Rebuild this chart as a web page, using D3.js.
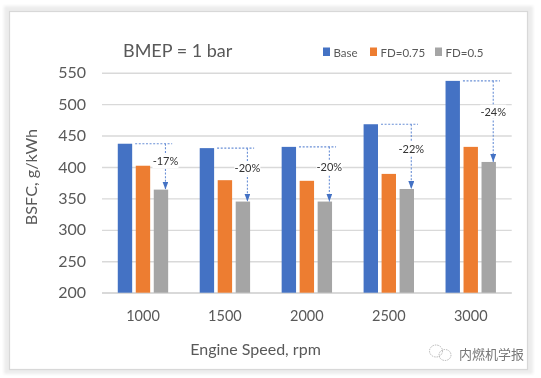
<!DOCTYPE html>
<html lang="en">
  <head>
    <meta charset="UTF-8" />
    <title>BSFC vs Engine Speed</title>
    <script src="https://cdn.jsdelivr.net/npm/d3@7"></script>
    <style>
      html, body { margin: 0; padding: 0; background: #fff; }
      svg { display: block; font-family: Lato, "Open Sans", sans-serif; filter: blur(0.35px); }
    </style>
  </head>
  <body>
    <div id="wrapper"></div>
    <script>
      const speeds = ['1000', '1500', '2000', '2500', '3000']
      const seriesNames = ['Base', 'FD=0.75', 'FD=0.5']
      const base = [437, 430, 432, 468, 537]
      const fd075 = [402, 379, 378, 389, 432]
      const fd05 = [364, 345, 345, 365, 408]
      const changes = ['-17%', '-20%', '-20%', '-22%', '-24%']
      const yTicks = [200, 250, 300, 350, 400, 450, 500, 550]
      const colors = ['#4472c4', '#ed7d31', '#a5a5a5']

      const width = 541
      const height = 378
      const margin = { top: 72.7, left: 102, right: 29.3, bottom: 85.3 }
      const boundedWidth = width - margin.left - margin.right
      const boundedHeight = height - margin.top - margin.bottom
      const values = [base, fd075, fd05]

      const $svg = d3.select('#wrapper').append('svg')
        .attr('width', width)
        .attr('height', height)

      // soft outer shadow and thin picture border
      const defs = $svg.append('defs')
      defs.append('filter').attr('id', 'soft')
        .append('feGaussianBlur').attr('stdDeviation', 1.5)
      $svg.append('rect')
        .attr('x', 4).attr('y', 6).attr('width', 529).attr('height', 368)
        .attr('fill', '#ececec').attr('filter', 'url(#soft)')
      $svg.append('rect')
        .attr('x', 9.5).attr('y', 11.5).attr('width', 518).attr('height', 358)
        .attr('fill', '#fff').attr('stroke', '#d8d8d8').attr('stroke-width', 1.2)

      const g = $svg.append('g')
        .attr('transform', `translate(${margin.left},${margin.top})`)

      const xScale = d3.scaleBand()
        .domain(speeds)
        .range([0, boundedWidth])
        .paddingInner(0.385)
        .paddingOuter(0.1925)
      const seriesScale = d3.scaleBand()
        .domain(seriesNames)
        .range([0, xScale.bandwidth()])
        .paddingInner(0.2)
      const yScale = d3.scaleLinear()
        .domain([200, 550])
        .range([boundedHeight, 0])

      // gridlines and y labels
      const yAxis = g.append('g')
        .call(d3.axisLeft(yScale).tickValues(yTicks).tickSize(-boundedWidth).tickPadding(16))
      yAxis.select('.domain').remove()
      yAxis.selectAll('.tick line').attr('stroke', '#d9d9d9').attr('stroke-width', 1.4)
      yAxis.selectAll('.tick text')
        .attr('fill', '#595959').style('font-size', '16px').style('font-family', 'Lato')

      const xAxis = g.append('g')
        .attr('transform', `translate(0,${boundedHeight})`)
        .call(d3.axisBottom(xScale).tickSize(0).tickPadding(18))
      xAxis.select('.domain').attr('stroke', '#d9d9d9').attr('stroke-width', 1.4)
        .attr('d', `M0,0H${boundedWidth}`)
      xAxis.selectAll('.tick text')
        .attr('fill', '#595959').style('font-size', '14.5px').style('font-family', 'Lato')

      // bars
      seriesNames.forEach((name, s) => {
        g.append('g').selectAll('rect')
          .data(speeds)
          .join('rect')
          .attr('x', d => xScale(d) + seriesScale(name))
          .attr('width', seriesScale.bandwidth())
          .attr('y', (d, i) => yScale(values[s][i]))
          .attr('height', (d, i) => boundedHeight - yScale(values[s][i]))
          .attr('fill', colors[s])
      })

      // reduction annotations: dashed level off the Base bar, dashed arrow down to FD=0.5
      defs.append('marker')
        .attr('id', 'arrow')
        .attr('viewBox', '0 0 8 6')
        .attr('refX', 8).attr('refY', 3)
        .attr('markerWidth', 8).attr('markerHeight', 6)
        .attr('markerUnits', 'userSpaceOnUse')
        .attr('orient', 'auto')
        .append('path').attr('d', 'M0,0L8,3L0,6Z').attr('fill', '#4472c4')

      const arrowX = d => xScale(d) + seriesScale('FD=0.5') + seriesScale.bandwidth() / 2 + 4.5
      const note = g.append('g')
      note.selectAll('line.level')
        .data(speeds)
        .join('line')
        .attr('class', 'level')
        .attr('x1', d => xScale(d) + seriesScale.bandwidth() + 3)
        .attr('x2', d => xScale(d) + seriesScale.bandwidth() + 40)
        .attr('y1', (d, i) => yScale(base[i]))
        .attr('y2', (d, i) => yScale(base[i]))
        .attr('stroke', '#6a90d6').attr('stroke-width', 1.1).attr('stroke-dasharray', '2 1.6')
      note.selectAll('line.drop')
        .data(speeds)
        .join('line')
        .attr('class', 'drop')
        .attr('x1', arrowX)
        .attr('x2', arrowX)
        .attr('y1', (d, i) => yScale(base[i]))
        .attr('y2', (d, i) => yScale(fd05[i]))
        .attr('stroke', '#6a90d6').attr('stroke-width', 1.1).attr('stroke-dasharray', '2 1.6')
        .attr('marker-end', 'url(#arrow)')

      const labelY = i => yScale(base[i]) + (yScale(fd05[i]) - yScale(base[i])) * 0.38
      note.selectAll('rect.bg')
        .data(speeds)
        .join('rect')
        .attr('class', 'bg')
        .attr('x', d => arrowX(d) - 13)
        .attr('y', (d, i) => labelY(i) - 7)
        .attr('width', 26).attr('height', 14)
        .attr('fill', '#fff')
      note.selectAll('text')
        .data(speeds)
        .join('text')
        .attr('x', arrowX)
        .attr('y', (d, i) => labelY(i))
        .attr('dy', '0.35em')
        .attr('text-anchor', 'middle')
        .attr('fill', '#333')
        .style('font-size', '11px')
        .text((d, i) => changes[i])

      // title and axis titles
      $svg.append('text')
        .attr('x', 123).attr('y', 57)
        .attr('fill', '#595959').style('font-size', '18px')
        .text('BMEP = 1 bar')
      $svg.append('text')
        .attr('x', 255.5).attr('y', 355)
        .attr('text-anchor', 'middle')
        .attr('fill', '#595959').style('font-size', '16px')
        .text('Engine Speed, rpm')
      $svg.append('text')
        .attr('transform', 'translate(37,177) rotate(-90)')
        .attr('text-anchor', 'middle')
        .attr('fill', '#595959').style('font-size', '16.2px')
        .text('BSFC, g/kWh')

      // legend
      const legendX = [323, 370, 435]
      seriesNames.forEach((name, s) => {
        $svg.append('rect')
          .attr('x', legendX[s]).attr('y', 47.5).attr('width', 7).attr('height', 8.5)
          .attr('fill', colors[s])
        $svg.append('text')
          .attr('x', legendX[s] + 10.5).attr('y', 56.5)
          .attr('fill', '#595959').style('font-size', '11.5px')
          .text(name)
      })

      // watermark
      const mark = $svg.append('g').attr('fill', 'none').attr('stroke', '#999').attr('stroke-width', 0.7).attr('stroke-dasharray', '1.5 1')
      mark.append('ellipse').attr('cx', 436).attr('cy', 351).attr('rx', 6.5).attr('ry', 6)
      mark.append('ellipse').attr('cx', 445).attr('cy', 355).attr('rx', 6).attr('ry', 5.5)
      $svg.append('text')
        .attr('x', 459).attr('y', 359)
        .attr('fill', '#777')
        .style('font-family', '"Noto Sans CJK SC"').style('font-size', '13px')
        .text('内燃机学报')
    </script>
  </body>
</html>
